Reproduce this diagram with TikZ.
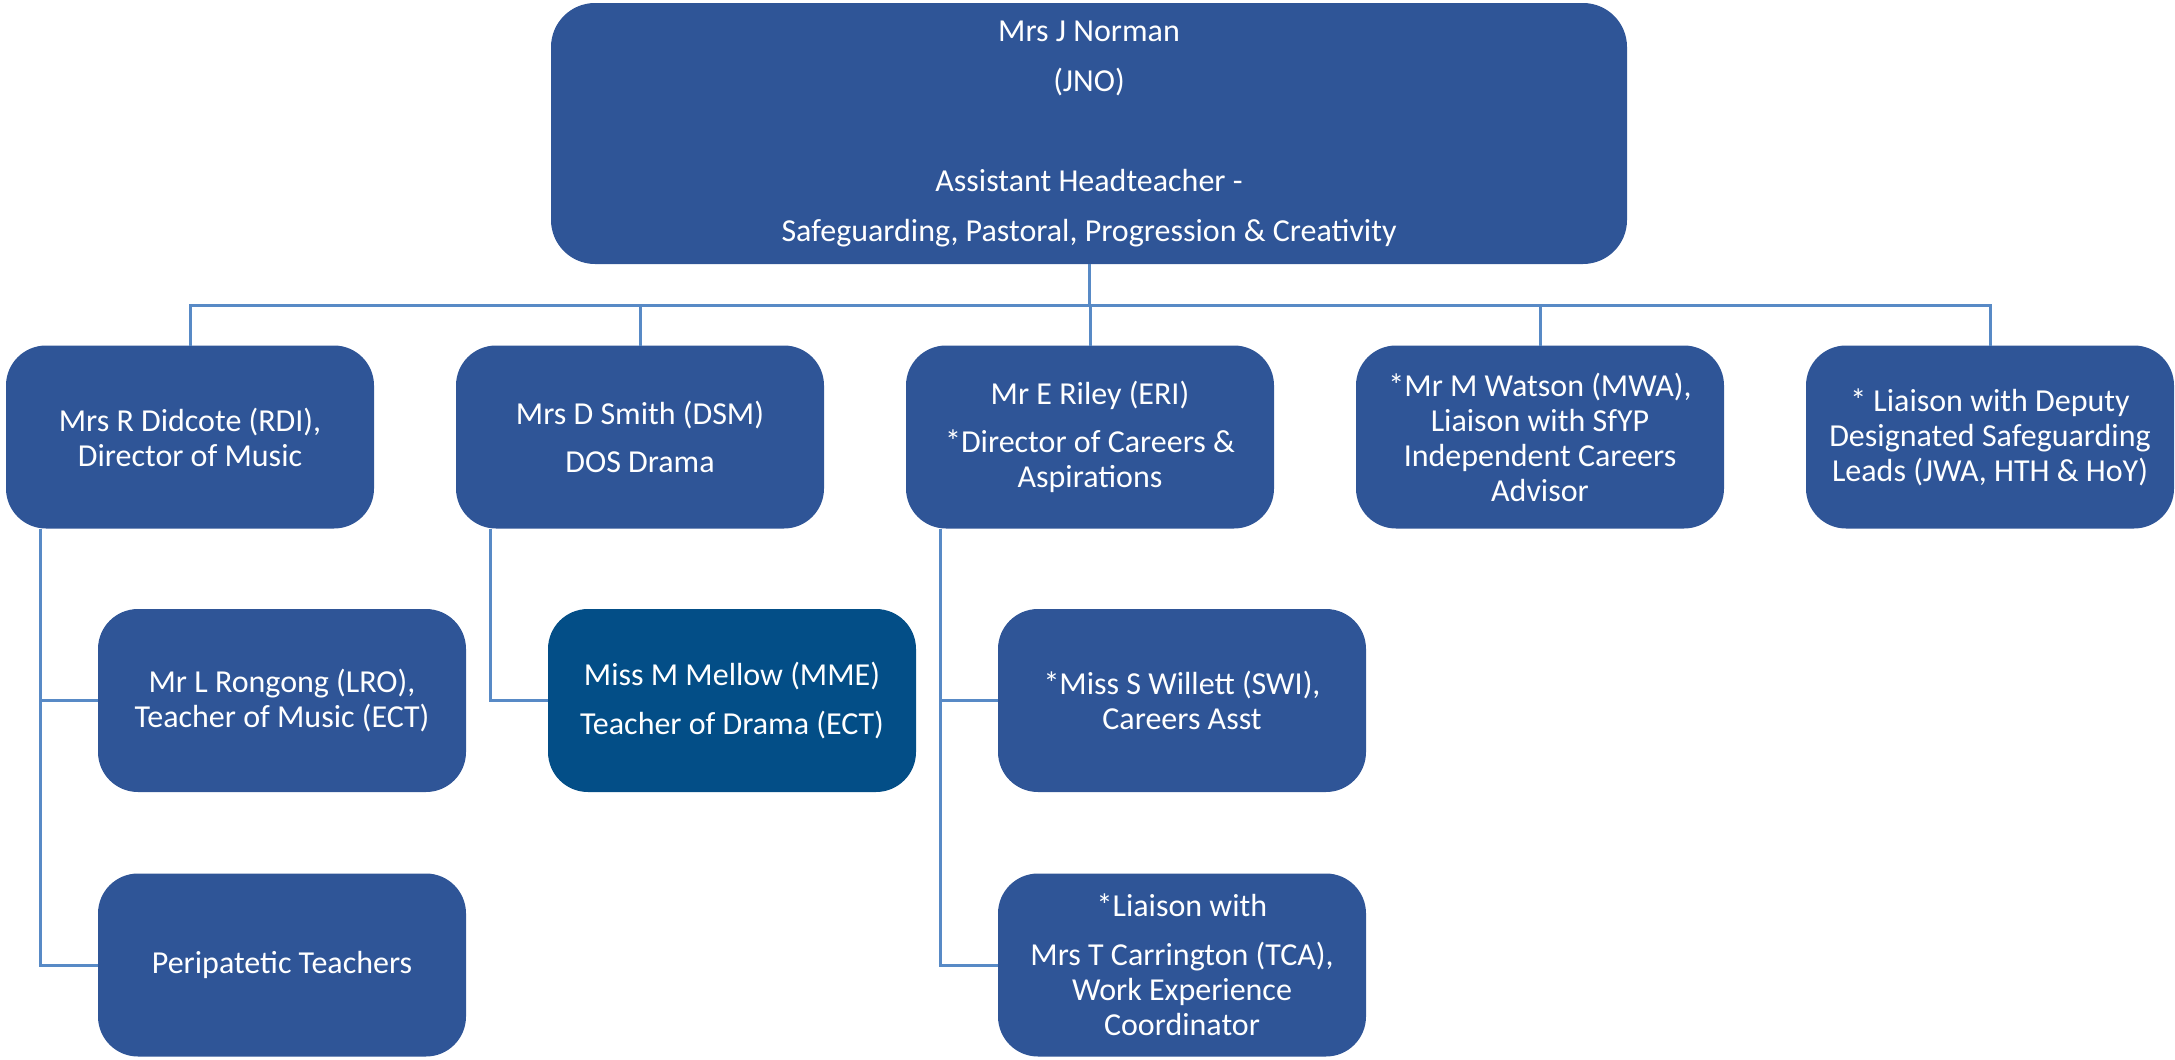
\documentclass[tikz,border=0pt]{standalone}
\usepackage{fontspec}
\setmainfont{Carlito}
\definecolor{boxblue}{RGB}{47, 85, 151}
\definecolor{deepblue}{RGB}{3, 78, 135}
\definecolor{linkblue}{RGB}{88, 138, 198}
\usepackage{tikz}
\usetikzlibrary{positioning, calc}

\tikzset{
  staffbox/.style={fill=boxblue, text=white, rounded corners=20pt, inner sep=0pt, outer sep=0pt,
    minimum width=184pt, minimum height=91.5pt, align=center, font=\fontsize{16}{17.5}\selectfont},
  headbox/.style={staffbox, rounded corners=22pt, minimum width=538pt, minimum height=130.5pt},
  link/.style={draw=linkblue, line width=1.5pt}
}

\begin{document}
\begin{tikzpicture}[x=0.5pt, y=-0.5pt]
  \useasboundingbox (0,0) rectangle (2175,1060);

  % Head
  \node[headbox] (jno) at (1089, 133.5) {
    Mrs J Norman\\[7.5pt]
    (JNO)\\[7.5pt]
    \mbox{}\\[7.5pt]
    Assistant Headteacher -\\[7.5pt]
    Safeguarding, Pastoral, Progression \& Creativity
  };

  % Second row
  \node[staffbox] (rdi) at (190, 437) {Mrs R Didcote (RDI),\\Director of Music};
  \node[staffbox] (dsm) at (640, 437) {Mrs D Smith (DSM)\\[6.8pt]DOS Drama};
  \node[staffbox] (eri) at (1090, 437) {Mr E Riley (ERI)\\[6.8pt]*Director of Careers \&\\Aspirations};
  \node[staffbox] (mwa) at (1540, 437) {*Mr M Watson (MWA),\\Liaison with SfYP\\Independent Careers\\Advisor};
  \node[staffbox] (dsl) at (1990, 437) {* Liaison with Deputy\\Designated Safeguarding\\Leads (JWA, HTH \& HoY)};

  % Third row
  \node[staffbox] (lro) at (282, 700.5) {Mr L Rongong (LRO),\\Teacher of Music (ECT)};
  \node[staffbox] (peri) at (282, 965) {Peripatetic Teachers};
  \node[staffbox, fill=deepblue] (mme) at (732, 700.5) {Miss M Mellow (MME)\\[6.8pt]Teacher of Drama (ECT)};
  \node[staffbox] (swi) at (1182, 700.5) {*Miss S Willett (SWI),\\Careers Asst};
  \node[staffbox] (tca) at (1182, 965) {*Liaison with\\[6.8pt]Mrs T Carrington (TCA),\\Work Experience\\Coordinator};

  % Links from head
  \foreach \n in {rdi, dsm, eri, mwa, dsl}
    \draw[link] (jno.south) -- ++(0,41) -| (\n.north);

  % Links to third row
  \draw[link] ([xshift=-75pt]rdi.south) |- (lro.west);
  \draw[link] ([xshift=-75pt]rdi.south) |- (peri.west);
  \draw[link] ([xshift=-75pt]dsm.south) |- (mme.west);
  \draw[link] ([xshift=-75pt]eri.south) |- (swi.west);
  \draw[link] ([xshift=-75pt]eri.south) |- (tca.west);
\end{tikzpicture}
\end{document}
